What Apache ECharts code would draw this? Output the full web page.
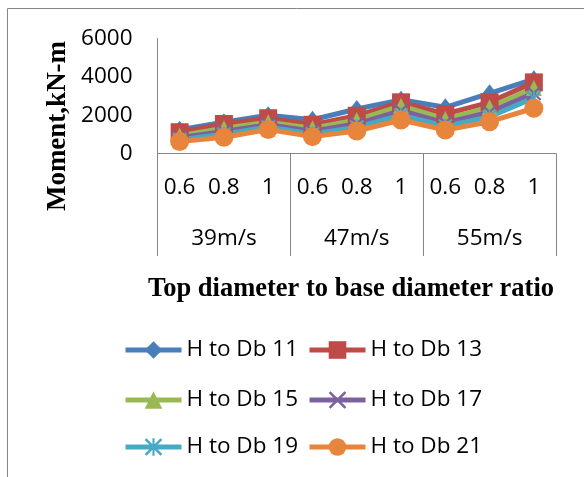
<!DOCTYPE html>
<html>
<head>
<meta charset="utf-8">
<script src="https://cdn.jsdelivr.net/npm/echarts@6/dist/echarts.min.js"></script>
<style>
  html, body { margin: 0; padding: 0; background: #ffffff; }
  #chart { width: 584px; height: 477px; }
</style>
</head>
<body>
<div id="chart"></div>
<script>
// Top-to-base diameter ratio per wind speed group
const ratios = ['0.6', '0.8', '1', '0.6', '0.8', '1', '0.6', '0.8', '1'];
const speeds = ['39m/s', '47m/s', '55m/s'];

// Value axis ticks
const yMin = 0;
const yMax = 6000;
const yStep = 2000;

// Base moment (kN-m) for each height to base diameter ratio
const hdb11 = [1240, 1630, 2000, 1760, 2320, 2800, 2410, 3140, 3880];
const hdb13 = [1110, 1540, 1840, 1500, 1970, 2670, 2060, 2670, 3710];
const hdb15 = [930, 1320, 1630, 1320, 1750, 2490, 1800, 2410, 3420];
const hdb17 = [820, 1150, 1500, 1160, 1550, 2230, 1600, 2150, 3150];
const hdb19 = [720, 1000, 1380, 1020, 1370, 2000, 1420, 1920, 2900];
const hdb21 = [620, 850, 1250, 880, 1175, 1750, 1225, 1660, 2360];

const seriesNames = ['H to Db 11', 'H to Db 13', 'H to Db 15', 'H to Db 17', 'H to Db 19', 'H to Db 21'];

const SANS = '"Open Sans", "Noto Sans", sans-serif';
const SERIF = '"Liberation Serif", "Times New Roman", serif';
const AXIS_GREY = '#868686';
const LINE_W = 5;

// Filled outlines for the cross and asterisk markers
const crossPath = 'path://M0,1 L1,0 L5,4 L9,0 L10,1 L6,5 L10,9 L9,10 L5,6 L1,10 L0,9 L4,5 Z';
const starPath = 'path://M0,1 L1,0 L5,4 L9,0 L10,1 L6,5 L10,9 L9,10 L5,6 L1,10 L0,9 L4,5 Z M4.4,0 L5.6,0 L5.6,10 L4.4,10 Z';

function lineSeries(name, data, color, symbol, size) {
  return {
    name: name,
    type: 'line',
    data: data,
    symbol: symbol,
    symbolSize: size,
    showAllSymbol: true,
    lineStyle: { width: LINE_W, color: color },
    itemStyle: { color: color },
    emphasis: { disabled: true }
  };
}

const chart = echarts.init(document.getElementById('chart'), null, { renderer: 'canvas' });

const legendBase = {
  left: 123,
  padding: 0,
  itemWidth: 56,
  itemHeight: 22,
  itemGap: 9,
  selectedMode: false,
  lineStyle: { width: LINE_W },
  textStyle: { fontFamily: SANS, fontSize: 22.5, color: '#000', lineHeight: 26 }
};

chart.setOption({
  animation: false,
  backgroundColor: '#ffffff',
  grid: { left: 157.5, right: 28, top: 38.5, bottom: 323.5, containLabel: false },
  xAxis: [
    {
      type: 'category',
      data: ratios,
      position: 'bottom',
      axisLine: { show: true, lineStyle: { color: AXIS_GREY, width: 1 } },
      axisTick: { show: false },
      axisLabel: { margin: 23, fontFamily: SANS, fontSize: 22.5, color: '#000', interval: 0 },
      splitLine: { show: false }
    },
    {
      type: 'category',
      data: speeds,
      position: 'bottom',
      gridIndex: 0,
      axisLine: { show: false },
      axisTick: { show: true, length: 102.5, lineStyle: { color: AXIS_GREY, width: 1 } },
      axisLabel: { margin: 74, fontFamily: SANS, fontSize: 22.5, color: '#000', interval: 0 },
      splitLine: { show: false }
    }
  ],
  yAxis: {
    type: 'value',
    min: yMin,
    max: yMax,
    interval: yStep,
    axisLine: { show: true, lineStyle: { color: AXIS_GREY, width: 1 } },
    axisTick: { show: false },
    splitLine: { show: false },
    axisLabel: {
      margin: 25,
      fontFamily: SANS,
      fontSize: 22.5,
      color: '#000',
      formatter: function (v) { return String(v); }
    }
  },
  legend: [
    Object.assign({}, legendBase, { top: 337, data: [seriesNames[0], seriesNames[1]] }),
    Object.assign({}, legendBase, { top: 387, data: [seriesNames[2], seriesNames[3]] }),
    Object.assign({}, legendBase, { top: 434, data: [seriesNames[4], seriesNames[5]] })
  ],
  graphic: [
    {
      type: 'rect',
      z: -10,
      silent: true,
      shape: { x: 7.5, y: 8.5, width: 640, height: 540 },
      style: { fill: 'none', stroke: AXIS_GREY, lineWidth: 1 }
    },
    {
      type: 'text',
      x: 58,
      y: 126,
      rotation: Math.PI / 2,
      silent: true,
      style: {
        text: 'Moment,kN-m',
        font: 'bold 27px ' + SERIF,
        fill: '#000',
        align: 'center',
        verticalAlign: 'middle'
      }
    },
    {
      type: 'text',
      x: 351,
      y: 289,
      silent: true,
      style: {
        text: 'Top diameter to base diameter ratio',
        font: 'bold 26.5px ' + SERIF,
        fill: '#000',
        align: 'center',
        verticalAlign: 'middle'
      }
    }
  ],
  series: [
    lineSeries(seriesNames[0], hdb11, '#4A7EBB', 'diamond', [14, 18]),
    lineSeries(seriesNames[1], hdb13, '#BE4B48', 'rect', 18),
    lineSeries(seriesNames[2], hdb15, '#98B954', 'triangle', 16),
    lineSeries(seriesNames[3], hdb17, '#7D60A0', crossPath, 15),
    lineSeries(seriesNames[4], hdb19, '#46AAC5', starPath, 15),
    lineSeries(seriesNames[5], hdb21, '#E8853D', 'circle', 19)
  ]
});
</script>
</body>
</html>
